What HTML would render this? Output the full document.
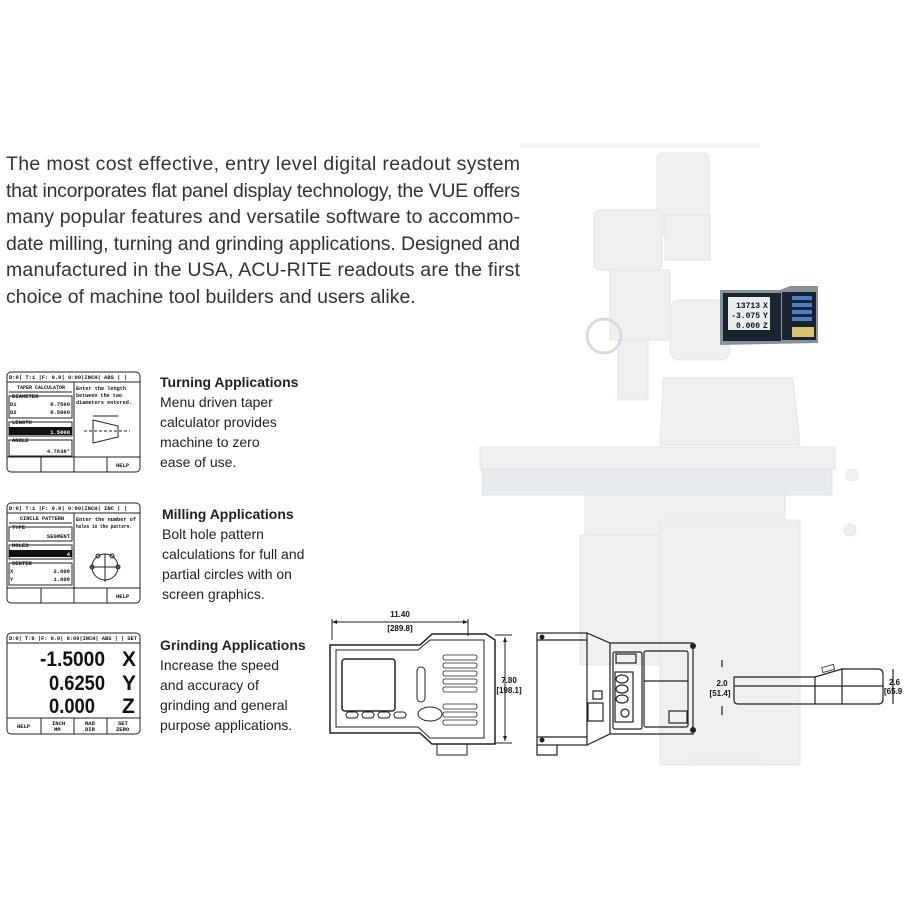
<!DOCTYPE html>
<html><head><meta charset="utf-8"><style>
html,body{margin:0;padding:0;background:#fff;width:916px;height:916px;overflow:hidden}
svg{display:block}
.p{font-family:"Liberation Sans",sans-serif;font-size:19.5px;fill:#333}
.h{font-family:"Liberation Sans",sans-serif;font-size:14px;font-weight:bold;fill:#222}
.b{font-family:"Liberation Sans",sans-serif;font-size:14px;fill:#222}
.m{font-family:"Liberation Mono",monospace;font-size:5.5px;fill:#111;font-weight:bold}
.d{font-family:"Liberation Sans",sans-serif;font-size:8px;font-weight:bold;fill:#111}
.big{font-family:"Liberation Sans",sans-serif;font-weight:bold;fill:#111}
</style></head><body>
<svg width="916" height="916" viewBox="0 0 916 916" xmlns="http://www.w3.org/2000/svg">
<!-- mill background -->
<g fill="#eef0f2" stroke="#e2e5e8" stroke-width="1">
<rect x="520" y="143" width="240" height="5" fill="#f4f4f4" stroke="none"/>
<rect x="657" y="153" width="52" height="82" rx="6"/>
<rect x="665" y="215" width="45" height="45"/>
<rect x="594" y="210" width="68" height="60" rx="6"/>
<rect x="610" y="270" width="60" height="70"/>
<rect x="618" y="340" width="30" height="60"/>
<circle cx="604" cy="336" r="17" fill="none" stroke="#d8dce0" stroke-width="3"/>
<rect x="670" y="300" width="60" height="60" rx="10"/>
<path d="M663 378 L793 378 L800 445 L660 445 Z"/>
<rect x="480" y="447" width="355" height="22"/>
<rect x="482" y="469" width="350" height="26" fill="#e8ebee"/>
<rect x="585" y="495" width="200" height="40"/>
<rect x="580" y="535" width="98" height="130"/>
<rect x="660" y="520" width="140" height="245"/>
<rect x="690" y="760" width="70" height="5"/>
<circle cx="852" cy="475" r="6"/>
<circle cx="850" cy="530" r="6"/>
</g>
<!-- readout on machine -->
<path d="M720 290 L780 290 L790 286 L818 286 L818 343 L720 345 Z" fill="#8a9099"/>
<rect x="723" y="293" width="58" height="48" fill="#1a2430"/>
<rect x="728" y="297" width="42" height="33" fill="#e9edef"/>
<text x="760" y="308" class="m" text-anchor="end" style="font-size:8px">13713</text>
<text x="760" y="318" class="m" text-anchor="end" style="font-size:8px">-3.075</text>
<text x="760" y="328" class="m" text-anchor="end" style="font-size:8px">0.000</text>
<text x="763" y="308" class="m" style="font-size:8px">X</text>
<text x="763" y="318" class="m" style="font-size:8px">Y</text>
<text x="763" y="328" class="m" style="font-size:8px">Z</text>
<rect x="782" y="292" width="34" height="48" fill="#1a2430"/>
<g fill="#4a7fd0"><rect x="792" y="296" width="20" height="4"/><rect x="792" y="303" width="20" height="4"/><rect x="792" y="310" width="20" height="4"/><rect x="792" y="317" width="20" height="4"/></g>
<g fill="#d8c36a"><rect x="792" y="327" width="22" height="10"/></g>
<!-- paragraph -->
<g class="p">
<text x="6" y="170" textLength="514" lengthAdjust="spacing">The most cost effective, entry level digital readout system</text>
<text x="6" y="197" textLength="514" lengthAdjust="spacing">that incorporates flat panel display technology, the VUE offers</text>
<text x="6" y="223" textLength="514" lengthAdjust="spacing">many popular features and versatile software to accommo-</text>
<text x="6" y="250" textLength="514" lengthAdjust="spacing">date milling, turning and grinding applications. Designed and</text>
<text x="6" y="276" textLength="514" lengthAdjust="spacing">manufactured in the USA, ACU-RITE readouts are the first</text>
<text x="6" y="303">choice of machine tool builders and users alike.</text>
</g>
<!-- captions -->
<text x="160" y="387" class="h">Turning Applications</text>
<text x="160" y="407" class="b">Menu driven taper</text>
<text x="160" y="427" class="b">calculator provides</text>
<text x="160" y="447" class="b">machine to zero</text>
<text x="160" y="467" class="b">ease of use.</text>
<text x="162" y="519" class="h">Milling Applications</text>
<text x="162" y="539" class="b">Bolt hole pattern</text>
<text x="162" y="559" class="b">calculations for full and</text>
<text x="162" y="579" class="b">partial circles with on</text>
<text x="162" y="599" class="b">screen graphics.</text>
<text x="160" y="650" class="h">Grinding Applications</text>
<text x="160" y="670" class="b">Increase the speed</text>
<text x="160" y="690" class="b">and accuracy of</text>
<text x="160" y="710" class="b">grinding and general</text>
<text x="160" y="730" class="b">purpose applications.</text>
<!-- screen 1 -->
<g fill="none" stroke="#222" stroke-width="1">
<rect x="7" y="372" width="133" height="100" rx="4"/>
<line x1="7" y1="382" x2="140" y2="382"/>
<line x1="74" y1="382" x2="74" y2="457"/>
<line x1="7" y1="457" x2="140" y2="457"/>
<line x1="41" y1="457" x2="41" y2="472"/><line x1="74" y1="457" x2="74" y2="472"/><line x1="107" y1="457" x2="107" y2="472"/>
<line x1="9" y1="392" x2="72" y2="392"/>
<rect x="9" y="396" width="63" height="22"/><rect x="9" y="422" width="63" height="14"/><rect x="9" y="440" width="63" height="16"/>
<path d="M93 420 L118 426 L118 437 L93 443 Z"/><line x1="84" y1="431" x2="130" y2="431" stroke-dasharray="3 2"/>
<line x1="93" y1="416" x2="118" y2="416"/>
</g>
<rect x="9" y="427" width="63" height="8" fill="#111"/>
<g class="m">
<text x="9" y="379" textLength="118" lengthAdjust="spacingAndGlyphs">D:0| T:1 |F: 0.0| 0:00|INCH| ABS |  |</text>
<text x="17" y="389" textLength="48" lengthAdjust="spacingAndGlyphs">TAPER CALCULATOR</text>
<text x="12" y="398">DIAMETER</text>
<text x="10" y="406">D1</text><text x="70" y="406" text-anchor="end">0.7500</text>
<text x="10" y="414">D2</text><text x="70" y="414" text-anchor="end">0.5000</text>
<text x="12" y="424">LENGTH</text>
<text x="70" y="434" text-anchor="end" fill="#fff">1.5000</text>
<text x="12" y="442">ANGLE</text>
<text x="70" y="453" text-anchor="end">4.7636°</text>
<text x="76" y="390" textLength="50" lengthAdjust="spacingAndGlyphs">Enter the length</text>
<text x="76" y="397" textLength="46" lengthAdjust="spacingAndGlyphs">between the two</text>
<text x="76" y="404" textLength="56" lengthAdjust="spacingAndGlyphs">diameters entered.</text>
<text x="116" y="467">HELP</text>
</g>
<!-- screen 2 -->
<g fill="none" stroke="#222" stroke-width="1">
<rect x="7" y="503" width="133" height="100" rx="4"/>
<line x1="7" y1="513" x2="140" y2="513"/>
<line x1="74" y1="513" x2="74" y2="588"/>
<line x1="7" y1="588" x2="140" y2="588"/>
<line x1="41" y1="588" x2="41" y2="603"/><line x1="74" y1="588" x2="74" y2="603"/><line x1="107" y1="588" x2="107" y2="603"/>
<line x1="9" y1="523" x2="72" y2="523"/>
<rect x="9" y="527" width="63" height="14"/><rect x="9" y="545" width="63" height="14"/><rect x="9" y="563" width="63" height="22"/>
<circle cx="105" cy="567" r="13"/><line x1="105" y1="554" x2="105" y2="582"/><line x1="90" y1="567" x2="120" y2="567"/>
<circle cx="98" cy="556" r="2"/><circle cx="112" cy="556" r="2"/><circle cx="92" cy="567" r="2"/><circle cx="118" cy="567" r="2"/>
</g>
<rect x="9" y="550" width="63" height="7" fill="#111"/>
<g class="m">
<text x="9" y="510" textLength="118" lengthAdjust="spacingAndGlyphs">D:0| T:1 |F: 0.0| 0:00|INCH| INC |  |</text>
<text x="20" y="520" textLength="44" lengthAdjust="spacingAndGlyphs">CIRCLE PATTERN</text>
<text x="12" y="529">TYPE</text><text x="70" y="538" text-anchor="end">SEGMENT</text>
<text x="12" y="547">HOLES</text><text x="70" y="556" text-anchor="end" fill="#fff">4</text>
<text x="12" y="565">CENTER</text>
<text x="10" y="573">X</text><text x="70" y="573" text-anchor="end">2.000</text>
<text x="10" y="581">Y</text><text x="70" y="581" text-anchor="end">1.000</text>
<text x="76" y="521" textLength="60" lengthAdjust="spacingAndGlyphs">Enter the number of</text>
<text x="76" y="528" textLength="56" lengthAdjust="spacingAndGlyphs">holes in the pattern.</text>
<text x="116" y="598">HELP</text>
</g>
<!-- screen 3 -->
<g fill="none" stroke="#222" stroke-width="1">
<rect x="7" y="633" width="133" height="101" rx="4"/>
<line x1="7" y1="643" x2="140" y2="643"/>
<line x1="7" y1="718" x2="140" y2="718"/>
<line x1="41" y1="718" x2="41" y2="734"/><line x1="74" y1="718" x2="74" y2="734"/><line x1="107" y1="718" x2="107" y2="734"/>
</g>
<g class="m">
<text x="9" y="640" textLength="128" lengthAdjust="spacingAndGlyphs">D:0| T:6 |F: 0.0| 0:00|INCH| ABS |   | SET</text>
<text x="17" y="728">HELP</text>
<text x="52" y="725">INCH</text><text x="54" y="731">MM</text>
<text x="85" y="725">RAD</text><text x="85" y="731">DIR</text>
<text x="118" y="725">SET</text><text x="116" y="731">ZERO</text>
</g>
<g class="big" style="font-size:21px">
<text x="105" y="666" text-anchor="end" textLength="65" lengthAdjust="spacingAndGlyphs">-1.5000</text>
<text x="105" y="690" text-anchor="end" textLength="56" lengthAdjust="spacingAndGlyphs">0.6250</text>
<text x="95" y="713" text-anchor="end" textLength="46" lengthAdjust="spacingAndGlyphs">0.000</text>
<text x="122" y="666">X</text><text x="122" y="690">Y</text><text x="122" y="713">Z</text>
</g>
<!-- front view drawing -->
<g fill="none" stroke="#222" stroke-width="1">
<line x1="332" y1="622" x2="468" y2="622"/>
<line x1="332" y1="619" x2="332" y2="640"/><line x1="468" y1="619" x2="468" y2="636"/>
<line x1="495" y1="635" x2="512" y2="635"/><line x1="495" y1="743" x2="512" y2="743"/>
<line x1="505" y1="637" x2="505" y2="741"/>
<path d="M330 645 L420 645 L432 634 L486 634 L495 640 L495 744 L486 744 L432 744 L420 733 L330 733 Z" stroke-width="1.5"/>
<path d="M336 650 L418 650 L430 640 L484 640 L484 738 L430 738 L418 727 L336 727 Z"/>
<rect x="342" y="659" width="53" height="52" rx="3" stroke-width="1.5"/>
<rect x="346" y="712" width="12" height="6" rx="3"/><rect x="362" y="712" width="12" height="6" rx="3"/><rect x="378" y="712" width="12" height="6" rx="3"/><rect x="394" y="712" width="12" height="6" rx="3"/>
<rect x="417" y="667" width="8" height="35" rx="4"/>
<ellipse cx="430" cy="714" rx="12" ry="7"/>
<g stroke-width="0.8">
<rect x="443" y="655" width="34" height="5" rx="2"/><rect x="443" y="663" width="34" height="5" rx="2"/><rect x="443" y="671" width="34" height="5" rx="2"/><rect x="443" y="679" width="34" height="5" rx="2"/><rect x="443" y="687" width="34" height="5" rx="2"/>
<rect x="443" y="704" width="34" height="5" rx="2"/><rect x="443" y="712" width="34" height="5" rx="2"/><rect x="443" y="720" width="34" height="5" rx="2"/>
</g>
<path d="M437 744 L437 755 L467 755 L467 744"/>
</g>
<path d="M332 622 l5 -2 v4 Z M468 622 l-5 -2 v4 Z M505 637 l-2 5 h4 Z M505 741 l-2 -5 h4 Z" fill="#222"/>
<text x="400" y="617" class="d" text-anchor="middle">11.40</text>
<text x="400" y="631" class="d" text-anchor="middle">[289.8]</text>
<text x="509" y="683" class="d" text-anchor="middle">7.80</text>
<text x="509" y="693" class="d" text-anchor="middle">[198.1]</text>
<!-- side view -->
<g fill="none" stroke="#222" stroke-width="1.2">
<rect x="537" y="633" width="50" height="112"/>
<line x1="537" y1="640" x2="587" y2="640"/><line x1="537" y1="737" x2="587" y2="737"/>
<path d="M587 633 L610 643 L693 643 L693 734 L610 734 L587 745"/>
<line x1="610" y1="643" x2="610" y2="734"/>
<rect x="613" y="652" width="29" height="77" rx="2"/>
<rect x="644" y="651" width="44" height="76" rx="2"/>
<line x1="644" y1="681" x2="688" y2="681"/>
<rect x="669" y="711" width="18" height="12"/>
<rect x="616" y="654" width="20" height="9"/>
<rect x="615" y="672" width="18" height="50"/>
<ellipse cx="622" cy="679" rx="6" ry="4"/><ellipse cx="622" cy="689" rx="6" ry="4"/><ellipse cx="622" cy="699" rx="6" ry="4"/><circle cx="625" cy="713" r="4"/>
<rect x="593" y="691" width="9" height="8"/><rect x="588" y="703" width="15" height="18"/>
<path d="M537 745 v10 h20 v-10"/>
</g>
<circle cx="693" cy="646" r="3" fill="#222"/><circle cx="693" cy="730" r="3" fill="#222"/><circle cx="542" cy="637" r="2.5" fill="#222"/><circle cx="542" cy="740" r="2.5" fill="#222"/>
<!-- profile view -->
<g fill="none" stroke="#222" stroke-width="1.2">
<path d="M734 677 L815 677 L842 669 L878 669 Q883 669 883 674 L883 699 Q883 704 878 704 L738 704 Q734 704 734 700 Z"/>
<line x1="734" y1="686" x2="883" y2="686"/>
<line x1="815" y1="677" x2="815" y2="704"/><line x1="842" y1="669" x2="842" y2="704"/>
<line x1="722" y1="660" x2="722" y2="667"/><line x1="722" y1="706" x2="722" y2="715"/>
<line x1="893" y1="669" x2="893" y2="704"/>
</g>
<rect x="822" y="666" width="12" height="5" fill="#fff" stroke="#222" stroke-width="0.8" transform="rotate(-15 828 668)"/>
<text x="722" y="686" class="d" text-anchor="middle">2.0</text>
<text x="720" y="696" class="d" text-anchor="middle">[51.4]</text>
<text x="889" y="685" class="d">2.6</text>
<text x="884" y="694" class="d">[65.9</text>
</svg>
</body></html>
